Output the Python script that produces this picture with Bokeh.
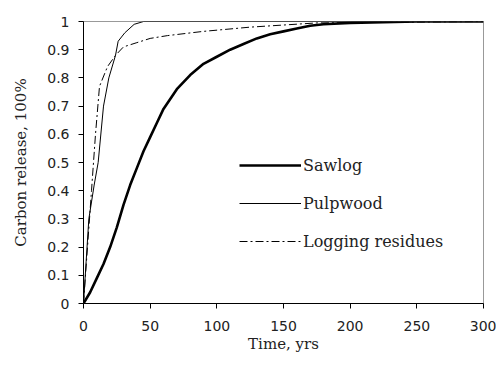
from bokeh.plotting import figure
from bokeh.models import Range1d, FixedTicker, Legend, LegendItem
from bokeh.embed import file_html
from bokeh.resources import INLINE

saw_t = [0, 5, 10, 15, 20, 25, 30, 35, 40, 45, 50, 55, 60, 70, 80, 90, 100, 110, 120, 130, 140, 150, 160, 170, 180, 200, 250, 300]
saw_v = [0, 0.04, 0.09, 0.14, 0.2, 0.27, 0.35, 0.42, 0.48, 0.54, 0.59, 0.64, 0.69, 0.76, 0.81, 0.85, 0.875, 0.9, 0.92, 0.94, 0.955, 0.965, 0.975, 0.985, 0.99, 0.995, 1.0, 1.0]

pulp_t = [0, 2, 4, 8, 11, 15, 19, 24, 26, 31, 38, 45, 100, 200, 300]
pulp_v = [0, 0.15, 0.3, 0.42, 0.5, 0.7, 0.8, 0.88, 0.93, 0.96, 0.99, 1.0, 1.0, 1.0, 1.0]

log_t = [0, 3, 6, 9, 12, 18, 24, 30, 40, 50, 63, 90, 125, 175, 300]
log_v = [0, 0.2, 0.4, 0.6, 0.77, 0.84, 0.88, 0.91, 0.925, 0.94, 0.95, 0.965, 0.98, 0.995, 1.0]

x_ticks = [0, 50, 100, 150, 200, 250, 300]
y_ticks = [0, 0.1, 0.2, 0.3, 0.4, 0.5, 0.6, 0.7, 0.8, 0.9, 1]
y_labels = {0: "0", 1: "1"}

SERIF = "DejaVu Serif"
SANS = "DejaVu Sans"

p = figure(width=496, height=365, output_backend="svg", toolbar_location=None,
           x_range=Range1d(0, 300), y_range=Range1d(0, 1),
           min_border_left=83, min_border_right=13, min_border_top=21, min_border_bottom=62)
p.background_fill_color = "white"
p.border_fill_color = "white"
p.outline_line_color = "#999999"
p.outline_line_width = 1
p.xgrid.visible = False
p.ygrid.visible = False

r1 = p.line(saw_t, saw_v, line_color="black", line_width=2.6)
r2 = p.line(pulp_t, pulp_v, line_color="black", line_width=1)
r3 = p.line(log_t, log_v, line_color="black", line_width=1, line_dash="8 3 2 3")

for ax in (p.xaxis, p.yaxis):
    ax.axis_line_color = "black"
    ax.major_tick_line_color = "black"
    ax.minor_tick_line_color = None
    ax.major_tick_out = 5
    ax.major_tick_in = 0
    ax.major_label_text_font = SANS
    ax.major_label_text_font_size = "14px"
    ax.major_label_text_color = "#222222"
    ax.axis_label_text_font = SERIF
    ax.axis_label_text_font_size = "15px"
    ax.axis_label_text_font_style = "normal"
    ax.axis_label_text_color = "#222222"

p.xaxis.ticker = FixedTicker(ticks=x_ticks)
p.yaxis.ticker = FixedTicker(ticks=y_ticks)
p.yaxis.major_label_overrides = y_labels
p.xaxis.axis_label = "Time, yrs"
p.yaxis.axis_label = "Carbon release, 100%"
p.xaxis.major_label_standoff = 12
p.yaxis.major_label_standoff = 9
p.xaxis.axis_label_standoff = 1
p.yaxis.axis_label_standoff = 14

legend = Legend(items=[LegendItem(label="Sawlog", renderers=[r1]),
                       LegendItem(label="Pulpwood", renderers=[r2]),
                       LegendItem(label="Logging residues", renderers=[r3])],
                location=(156, 51), orientation="vertical",
                glyph_width=62, glyph_height=22, spacing=16, padding=0,
                label_standoff=2, border_line_color=None, background_fill_alpha=0,
                label_text_font=SERIF, label_text_font_size="16px", label_text_color="#222222")
legend.margin = 0
p.add_layout(legend, "center")

open("out.html", "w").write(file_html(p, INLINE))
